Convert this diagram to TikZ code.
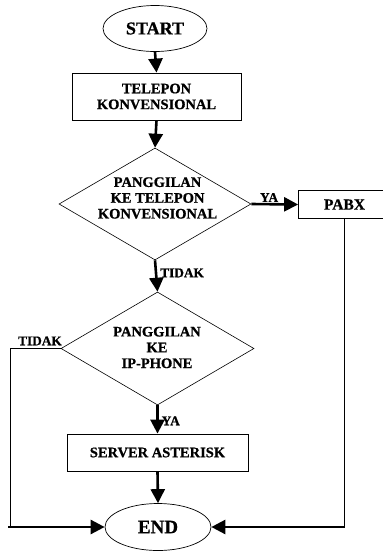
\documentclass[tikz,border=0pt]{standalone}
\usepackage{fontspec}
\setmainfont{Liberation Serif}[BoldFeatures={FakeBold=0.8}]
\usetikzlibrary{arrows.meta,shapes.geometric}
\begin{document}
\begin{tikzpicture}[x=1pt,y=-1pt,
  txt/.style={font=\bfseries\fontsize{14.5}{15.8}\selectfont, align=center, inner sep=0pt},
  lbl/.style={font=\bfseries\fontsize{13.3}{14}\selectfont, inner sep=0pt},
  term/.style={draw, ellipse, line width=0.7pt, inner sep=0pt},
  proc/.style={draw, rectangle, line width=0.8pt, inner sep=0pt},
  dia/.style={draw, diamond, line width=0.6pt, inner sep=0pt},
  arr/.style={line width=2.6pt, -{Triangle[width=14pt,length=14pt]}},
  thinline/.style={line width=0.8pt}]
\useasboundingbox (0,0) rectangle (383,552);
\clip (0,0) rectangle (383,552);
% nodes
\node[term, minimum width=104pt, minimum height=46pt, font=\bfseries\fontsize{18}{19}\selectfont] (start) at (155,28.5) {START};
\node[proc, minimum width=169pt, minimum height=47pt, txt] (tel) at (156.5,96.5) {TELEPON\\KONVENSIONAL};
\node[dia, minimum width=192pt, minimum height=112pt] (d1) at (155,204) {};
\node[txt] (d1t) at (157.5,198) {PANGGILAN\\KE TELEPON\\KONVENSIONAL};
\node[proc, minimum width=92pt, minimum height=28pt, font=\bfseries\fontsize{15.5}{16}\selectfont] (pabx) at (344.5,204.5) {PABX};
\node[dia, minimum width=193pt, minimum height=113pt] (d2) at (157.5,348.5) {};
\node[txt] (d2t) at (157,347.5) {PANGGILAN\\KE\\IP-PHONE};
\node[proc, minimum width=181pt, minimum height=37pt, txt] (srv) at (157.5,452.5) {SERVER ASTERISK};
\node[term, minimum width=106pt, minimum height=47pt, font=\bfseries\fontsize{19}{20}\selectfont] (end) at (158,527) {END};
% connectors
\draw[arr] (start.south) -- (tel.north);
\draw[arr] (tel.south) -- (d1.north);
\draw[arr] (d1.east) -- node[lbl, above, pos=0.38, yshift=1pt] (ya1) {YA} (pabx.west);
\draw[arr] (d1.south) -- node[lbl, right, pos=0.4, xshift=3pt] (tidak1) {TIDAK} (d2.north);
\draw[arr] (d2.south) -- node[lbl, right, pos=0.55, xshift=3pt] (ya2) {YA} (srv.north);
\draw[arr] (srv.south) -- (end.north);
\coordinate (cr) at (pabx.south |- end.east);
\draw[thinline] (pabx.south) -- (cr);
\draw[arr] ([xshift=0.4pt]cr) -- (end.east);
\coordinate (cl1) at (10,348.5);
\coordinate (cl2) at (10,527);
\draw[thinline] (d2.west) -- (cl1) -- (cl2);
\node[lbl, above, xshift=30pt, yshift=3pt] (tidak2) at (cl1) {TIDAK};
\draw[arr] ([xshift=-2pt]cl2) -- (end.west);
\end{tikzpicture}
\end{document}
